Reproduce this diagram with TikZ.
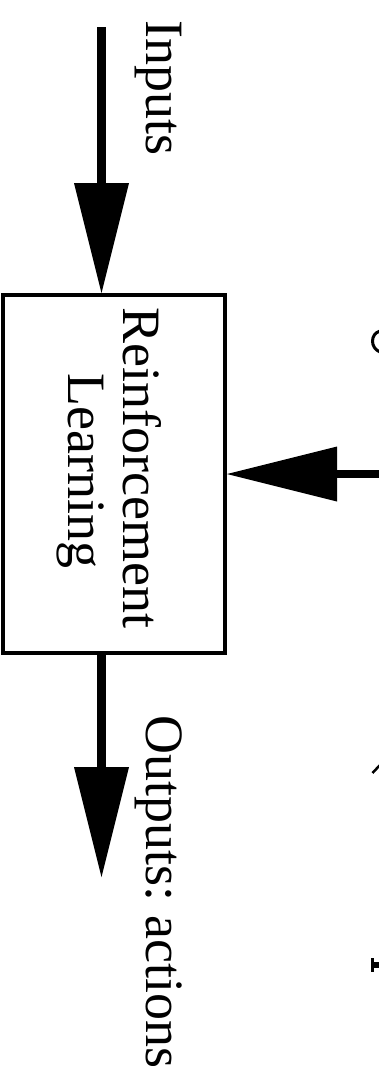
\documentclass[tikz,border=0pt]{standalone}
\usepackage{fontspec}
\setmainfont{Liberation Serif}
\usetikzlibrary{arrows.meta}
\frenchspacing

\begin{document}
\begin{tikzpicture}[x=1pt,y=-1pt,
  big/.style={font=\fontsize{54}{55}\selectfont},
  shaft/.style={line width=9pt,
    -{Triangle[length=110pt,width=55pt,line width=0pt]}},
  blockbox/.style={draw,line width=4pt,minimum width=222pt,
    minimum height=358pt,inner sep=0pt},
  frag/.style={line width=2.5pt}]
  \useasboundingbox (0,0) rectangle (379,1066);

  % learning block
  \node[blockbox] (box) at (114,474) {};
  \node[big,rotate=-90,anchor=base] (rl1) at (123,468) {Reinforcement};
  \node[big,rotate=-90,anchor=base] (rl2) at (68,471) {Learning};

  % input connector
  \coordinate (inTop) at (101.5,27);
  \draw[shaft] (inTop) -- (inTop |- box.north);
  \node[big,rotate=-90,anchor=base west] (inLbl) at (146,17) {Inputs};

  % output connector
  \coordinate (outEnd) at (101.5,877);
  \draw[shaft] (box.south -| outEnd) -- (outEnd);
  \node[big,rotate=-90,anchor=base west] (outLbl) at (146,712) {Outputs: actions};

  % feedback connector entering from the right
  \coordinate (fbStart) at (381,474);
  \draw[shaft,line width=8pt] (fbStart) -- (fbStart -| box.east);

  % glyph pieces cut by the right margin
  \draw[frag,line width=3pt] (380,331) .. controls (370,334) and (370,348) .. (380,352);
  \draw[frag] (372.5,773) -- (380,765);
  \fill (370.5,958) rectangle (373.5,972);
  \fill (373,962) rectangle (380,967.5);
\end{tikzpicture}
\end{document}
